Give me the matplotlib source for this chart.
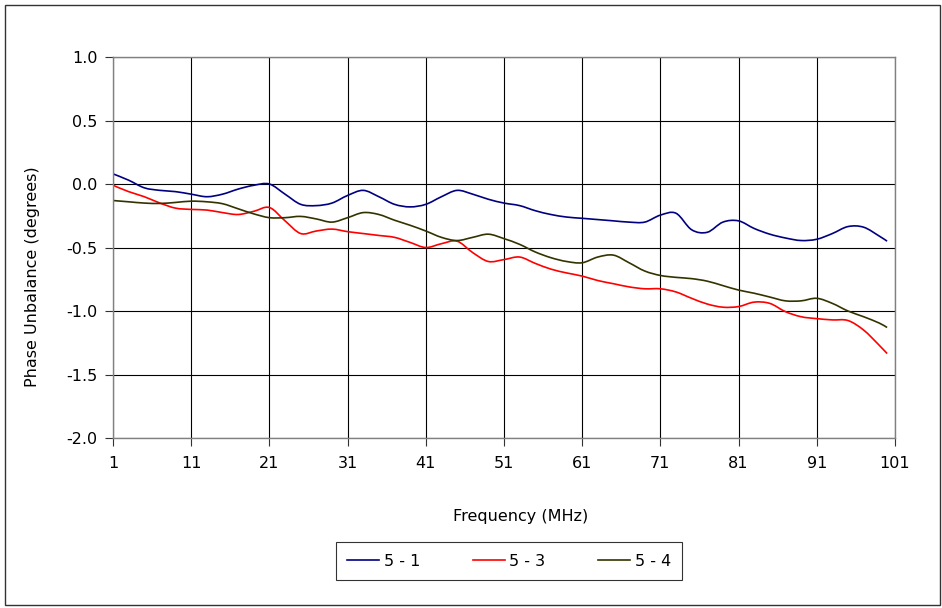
import matplotlib
matplotlib.use("Agg")
import matplotlib.pyplot as plt
from matplotlib.patches import Rectangle, PathPatch
from matplotlib.path import Path
from matplotlib.lines import Line2D

# frequency points (MHz)
freq = [1, 3, 5, 7, 9, 11, 13, 15, 17, 19, 21, 23, 25, 27, 29, 31, 33, 35, 37, 39,
        41, 43, 45, 47, 49, 51, 53, 55, 57, 59, 61, 63, 65, 67, 69, 71, 73, 75, 77, 79,
        81, 83, 85, 87, 89, 91, 93, 95, 97, 99, 100]

# phase unbalance (degrees)
p51 = [0.08, 0.03, -0.03, -0.05, -0.06, -0.08, -0.10, -0.08, -0.04, -0.01,
       0.00, -0.08, -0.16, -0.17, -0.15, -0.09, -0.05, -0.10, -0.16, -0.18,
       -0.16, -0.10, -0.05, -0.08, -0.12, -0.15, -0.17, -0.21, -0.24, -0.26,
       -0.27, -0.28, -0.29, -0.30, -0.30, -0.245, -0.23, -0.36, -0.38, -0.30,
       -0.29, -0.35, -0.395, -0.425, -0.445, -0.435, -0.39, -0.335, -0.34, -0.41,
       -0.45]
p53 = [-0.01, -0.06, -0.10, -0.15, -0.19, -0.20, -0.205, -0.225, -0.24, -0.215,
       -0.185, -0.29, -0.39, -0.37, -0.355, -0.375, -0.39, -0.405, -0.42, -0.46,
       -0.50, -0.47, -0.45, -0.54, -0.61, -0.595, -0.575, -0.625, -0.67, -0.70,
       -0.725, -0.76, -0.785, -0.81, -0.825, -0.825, -0.85, -0.90, -0.945, -0.97,
       -0.965, -0.93, -0.94, -1.005, -1.045, -1.06, -1.07, -1.075, -1.15, -1.27,
       -1.335]
p54 = [-0.13, -0.14, -0.15, -0.153, -0.145, -0.135, -0.14, -0.155, -0.195, -0.235,
       -0.265, -0.265, -0.255, -0.275, -0.30, -0.265, -0.225, -0.24, -0.285, -0.325,
       -0.37, -0.42, -0.445, -0.42, -0.395, -0.43, -0.475, -0.535, -0.58, -0.61,
       -0.62, -0.575, -0.56, -0.62, -0.685, -0.72, -0.735, -0.745, -0.765, -0.80,
       -0.835, -0.86, -0.89, -0.92, -0.92, -0.90, -0.94, -1.00, -1.045, -1.095,
       -1.13]

names = ["5 - 1", "5 - 3", "5 - 4"]
colors = ["#000080", "#FF0000", "#333300"]

xticks = [1, 11, 21, 31, 41, 51, 61, 71, 81, 91, 101]
yticks = [-2.0, -1.5, -1.0, -0.5, 0.0, 0.5, 1.0]


def smooth_path(x, y):
    # excel style "smoothed line": bezier through the points
    verts = [(x[0], y[0])]
    codes = [Path.MOVETO]
    n = len(x)
    for i in range(n - 1):
        x0, y0 = (x[i - 1], y[i - 1]) if i > 0 else (x[i], y[i])
        x3, y3 = (x[i + 2], y[i + 2]) if i + 2 < n else (x[i + 1], y[i + 1])
        c1 = (x[i] + (x[i + 1] - x0) / 6, y[i] + (y[i + 1] - y0) / 6)
        c2 = (x[i + 1] - (x3 - x[i]) / 6, y[i + 1] - (y3 - y[i]) / 6)
        verts += [c1, c2, (x[i + 1], y[i + 1])]
        codes += [Path.CURVE4] * 3
    return Path(verts, codes)


plt.rcParams['font.family'] = ['DejaVu Sans']
fs = 11.5

fig = plt.figure(figsize=(9.42, 6.08), dpi=100)
ax = fig.add_axes([0.12, 0.2796, 0.830, 0.6266])

for ys, c in zip([p51, p53, p54], colors):
    ax.add_patch(PathPatch(smooth_path(freq, ys), fill=False, edgecolor=c, lw=1.2))

ax.set_xlim(1, 101)
ax.set_ylim(-2.0, 1.0)
ax.set_xticks(xticks)
ax.set_yticks(yticks)
ax.set_yticklabels(["%.1f" % v for v in yticks])
ax.tick_params(labelsize=fs, length=6, width=0.8, color="#333333", pad=5)
ax.tick_params(axis="x", pad=7)
ax.grid(True, color="black", lw=0.8)
ax.set_axisbelow(True)
for s in ax.spines.values():
    s.set_color("#808080")
    s.set_linewidth(1.0)

fig.text(521 / 942, 1 - 516 / 608, "Frequency (MHz)", fontsize=fs, ha="center", va="center")
fig.text(33 / 942, 1 - 277 / 608, "Phase Unbalance (degrees)", fontsize=fs,
         ha="center", va="center", rotation=90)

handles = [Line2D([], [], color=c, lw=1.2) for c in colors]
leg = ax.legend(handles, names, loc="center", bbox_to_anchor=(509 / 942, 1 - 561 / 608),
                bbox_transform=fig.transFigure, ncol=3, fontsize=fs,
                frameon=True, fancybox=False, handlelength=2.0,
                columnspacing=3.3, borderpad=0.7, handletextpad=0.3)
leg.get_frame().set_edgecolor("black")
leg.get_frame().set_linewidth(0.8)

fig.patches.append(Rectangle((5 / 942, 3 / 608), 935 / 942, 600 / 608,
                             transform=fig.transFigure, fill=False,
                             edgecolor="#333333", lw=1.0))

fig.savefig("out.png", dpi=100)
